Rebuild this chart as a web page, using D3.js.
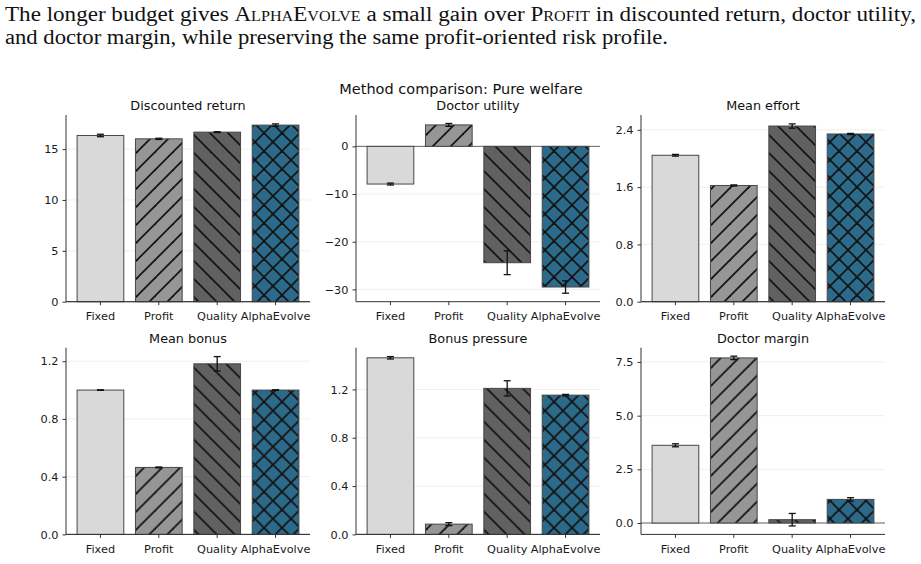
<!DOCTYPE html>
<html><head><meta charset="utf-8">
<script src="https://cdn.jsdelivr.net/npm/d3@7"></script>
<style>
html,body{margin:0;padding:0;background:#fff;}
svg{display:block;}
</style></head>
<body>
<svg id="chart" width="921" height="564"></svg>
<script>
const categories = ["Fixed", "Profit", "Quality", "AlphaEvolve"];
const panelTitles = ["Discounted return", "Doctor utility", "Mean effort", "Mean bonus", "Bonus pressure", "Doctor margin"];
const discountedReturn = [16.34, 16.01, 16.67, 17.36];
const discountedReturnErr = [0.12, 0.06, 0.04, 0.12];
const doctorUtility = [-7.9, 4.5, -24.4, -29.5];
const doctorUtilityErr = [0.2, 0.3, 2.5, 1.3];
const meanEffort = [2.045, 1.623, 2.453, 2.342];
const meanEffortErr = [0.012, 0.008, 0.03, 0.008];
const meanBonus = [1.0, 0.464, 1.182, 1.0];
const meanBonusErr = [0.002, 0.003, 0.05, 0.002];
const bonusPressure = [1.462, 0.085, 1.209, 1.153];
const bonusPressureErr = [0.01, 0.012, 0.063, 0.006];
const doctorMargin = [3.62, 7.69, 0.155, 1.1];
const doctorMarginErr = [0.07, 0.08, 0.29, 0.08];
const yTicks = [[0, 5, 10, 15], [-30, -20, -10, 0], [0, 0.8, 1.6, 2.4], [0, 0.4, 0.8, 1.2], [0, 0.4, 0.8, 1.2], [0, 2.5, 5, 7.5]];
const yTickFormats = ["d", "d", ".1f", ".1f", ".1f", ".1f"];
const suptitle = "Method comparison: Pure welfare";

const values = [discountedReturn, doctorUtility, meanEffort, meanBonus, bonusPressure, doctorMargin];
const errors = [discountedReturnErr, doctorUtilityErr, meanEffortErr, meanBonusErr, bonusPressureErr, doctorMarginErr];

const fills = ["#d9d9d9", "#969696", "#616161", "#2b6a8b"];
const hatches = [null, "fwd", "back", "cross"];

const svg = d3.select("#chart");
const defs = svg.append("defs");
const P = 18;
function mkPattern(id, bg, kind) {
  const p = defs.append("pattern").attr("id", id).attr("patternUnits", "userSpaceOnUse")
    .attr("width", P).attr("height", P);
  p.append("rect").attr("width", P).attr("height", P).attr("fill", bg);
  const add = (x1, y1, x2, y2) => p.append("line").attr("x1", x1).attr("y1", y1).attr("x2", x2).attr("y2", y2)
    .attr("stroke", "#141414").attr("stroke-width", 1.8);
  if (kind === "fwd" || kind === "cross") {
    add(-1, P + 1, P + 1, -1); add(-1, 1, 1, -1); add(P - 1, P + 1, P + 1, P - 1);
  }
  if (kind === "back" || kind === "cross") {
    add(-1, -1, P + 1, P + 1); add(P - 1, -1, P + 1, 1); add(-1, P - 1, 1, P + 1);
  }
}
categories.forEach((c, i) => { if (hatches[i]) mkPattern("h" + i, fills[i], hatches[i]); });

const header = svg.append("g").attr("font-family", "'Liberation Serif', 'DejaVu Serif', serif")
  .attr("font-size", 20).attr("fill", "#111");
const l1 = header.append("text").attr("x", 5).attr("y", 21)
  .attr("textLength", 911).attr("lengthAdjust", "spacingAndGlyphs");
l1.append("tspan").text("The longer budget gives ");
l1.append("tspan").attr("font-variant", "small-caps").text("AlphaEvolve");
l1.append("tspan").text(" a small gain over ");
l1.append("tspan").attr("font-variant", "small-caps").text("Profit");
l1.append("tspan").text(" in discounted return, doctor utility,");
header.append("text").attr("x", 5).attr("y", 44)
  .attr("textLength", 663).attr("lengthAdjust", "spacingAndGlyphs")
  .text("and doctor margin, while preserving the same profit-oriented risk profile.");

svg.append("text").attr("x", 461).attr("y", 94).attr("text-anchor", "middle")
  .attr("font-family", "'DejaVu Sans', sans-serif").attr("font-size", 14.5).attr("fill", "#111")
  .text(suptitle);

const colLeft = [66, 356, 641];
const rowTop = [115, 347.7];
const W = 244, H = 186.7;

values.forEach((vals, k) => {
  const errs = errors[k];
  const x0 = colLeft[k % 3], y0 = rowTop[Math.floor(k / 3)];
  const g = svg.append("g").attr("transform", `translate(${x0},${y0})`)
    .attr("font-family", "'DejaVu Sans', sans-serif");

  let lo = d3.min(vals.map((v, i) => v - errs[i])), hi = d3.max(vals.map((v, i) => v + errs[i]));
  const dlo = Math.min(0, lo), dhi = Math.max(0, hi);
  const r = dhi - dlo;
  let ylo = dlo - 0.05 * r, yhi = dhi + 0.05 * r;
  if (lo >= 0) ylo = 0;
  if (hi <= 0) yhi = 0;
  const y = d3.scaleLinear().domain([ylo, yhi]).range([H, 0]);

  const x = d3.scaleBand().domain(categories).range([0, W]).paddingInner(0.2).paddingOuter(0.19);

  g.append("g").selectAll("line").data(yTicks[k]).join("line")
    .attr("x1", 0).attr("x2", W).attr("y1", d => y(d)).attr("y2", d => y(d))
    .attr("stroke", "#ebebeb").attr("stroke-width", 0.8);

  g.append("line").attr("x1", 0).attr("x2", W).attr("y1", y(0)).attr("y2", y(0))
    .attr("stroke", "#666").attr("stroke-width", 1);

  g.append("g").selectAll("rect").data(vals).join("rect")
    .attr("x", (d, i) => x(categories[i]))
    .attr("width", x.bandwidth())
    .attr("y", d => y(Math.max(0, d)))
    .attr("height", d => Math.abs(y(d) - y(0)))
    .attr("fill", (d, i) => hatches[i] ? `url(#h${i})` : fills[i])
    .attr("stroke", "#474747").attr("stroke-width", 1);

  const eb = g.append("g").attr("stroke", "#111").attr("stroke-width", 1.3);
  vals.forEach((v, i) => {
    const cx = x(categories[i]) + x.bandwidth() / 2;
    const ya = y(v + errs[i]), yb = y(v - errs[i]);
    eb.append("line").attr("x1", cx).attr("x2", cx).attr("y1", ya).attr("y2", yb);
    eb.append("line").attr("x1", cx - 3.5).attr("x2", cx + 3.5).attr("y1", ya).attr("y2", ya);
    eb.append("line").attr("x1", cx - 3.5).attr("x2", cx + 3.5).attr("y1", yb).attr("y2", yb);
  });

  const fmt = d3.format(yTickFormats[k]);
  const yAxis = d3.axisLeft(y).tickValues(yTicks[k]).tickSize(3.5).tickPadding(4)
    .tickFormat(d => fmt(d).replace("-", "\u2212"));
  const ya = g.append("g").call(yAxis);
  const xa = g.append("g").attr("transform", `translate(0,${H})`)
    .call(d3.axisBottom(x).tickSize(3.5).tickPadding(7));
  [ya, xa].forEach(a => {
    a.select(".domain").attr("stroke", "#333").attr("stroke-width", 1);
    a.selectAll(".tick line").attr("stroke", "#333");
    a.selectAll(".tick text").attr("fill", "#1a1a1a").attr("font-size", 11.3)
      .attr("font-family", "'DejaVu Sans', sans-serif");
  });
  ya.select(".domain").attr("d", `M0,${H}V0`);
  xa.select(".domain").attr("d", `M0,0H${W}`);

  g.append("text").attr("x", W / 2).attr("y", -5).attr("text-anchor", "middle")
    .attr("font-size", 12.8).attr("fill", "#111").text(panelTitles[k]);
});
</script>
</body></html>
